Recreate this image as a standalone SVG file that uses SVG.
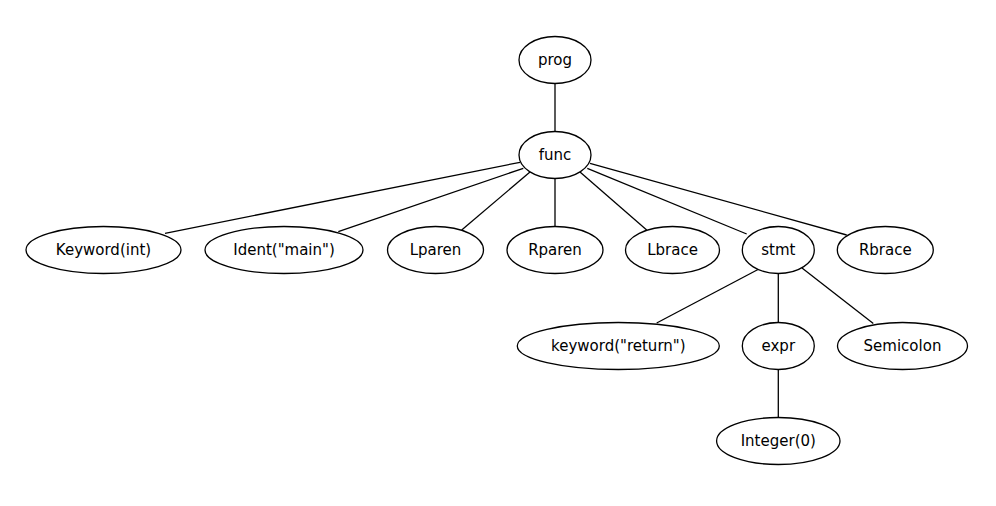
<svg xmlns="http://www.w3.org/2000/svg" width="996" height="506" viewBox="0 0 996 506">
<style>
.n ellipse{fill:#fff;stroke:#000;stroke-width:1.3}
.n text{font-family:"DejaVu Sans",sans-serif;font-size:15px;fill:#000;text-anchor:middle}
#edges line{stroke:#000;stroke-width:1.3}
</style>
<rect width="996" height="506" fill="#fff"/>
<g id="edges">
<line x1="555" y1="84" x2="555" y2="131"/>
<line x1="520" y1="162.3" x2="165" y2="233.3"/>
<line x1="523.3" y1="168.3" x2="338.3" y2="231.7"/>
<line x1="530" y1="172" x2="461.7" y2="230"/>
<line x1="555" y1="178" x2="555" y2="226.5"/>
<line x1="580" y1="172" x2="646.7" y2="230"/>
<line x1="587.3" y1="168.3" x2="746.7" y2="234"/>
<line x1="590" y1="163.3" x2="846.7" y2="235"/>
<line x1="758" y1="269.5" x2="656.7" y2="323"/>
<line x1="778.3" y1="273.5" x2="778.3" y2="322.5"/>
<line x1="802" y1="268" x2="873.3" y2="323.5"/>
<line x1="778.3" y1="369.5" x2="778.3" y2="417.5"/>
</g>
<g id="prog" class="n"><ellipse cx="555" cy="60" rx="36" ry="23.5"/><text x="555" y="65">prog</text></g>
<g id="func" class="n"><ellipse cx="555" cy="155" rx="36" ry="23.5"/><text x="555" y="160">func</text></g>
<g id="keyword_int" class="n"><ellipse cx="103.5" cy="250" rx="77.5" ry="23.5"/><text x="103.5" y="255">Keyword(int)</text></g>
<g id="ident_main" class="n"><ellipse cx="284" cy="250" rx="79" ry="23.5"/><text x="284" y="255">Ident("main")</text></g>
<g id="lparen" class="n"><ellipse cx="435.5" cy="250" rx="48" ry="23.5"/><text x="435.5" y="255">Lparen</text></g>
<g id="rparen" class="n"><ellipse cx="555" cy="250" rx="48" ry="23.5"/><text x="555" y="255">Rparen</text></g>
<g id="lbrace" class="n"><ellipse cx="672.5" cy="250" rx="47" ry="23.5"/><text x="672.5" y="255">Lbrace</text></g>
<g id="stmt" class="n"><ellipse cx="778.3" cy="250" rx="36" ry="23.5"/><text x="778.3" y="255">stmt</text></g>
<g id="rbrace" class="n"><ellipse cx="885.3" cy="250" rx="48" ry="23.5"/><text x="885.3" y="255">Rbrace</text></g>
<g id="keyword_return" class="n"><ellipse cx="618.3" cy="346" rx="101" ry="23.5"/><text x="618.3" y="351">keyword("return")</text></g>
<g id="expr" class="n"><ellipse cx="778.3" cy="346" rx="36" ry="23.5"/><text x="778.3" y="351">expr</text></g>
<g id="semicolon" class="n"><ellipse cx="902.5" cy="346" rx="65" ry="23.5"/><text x="902.5" y="351">Semicolon</text></g>
<g id="integer0" class="n"><ellipse cx="778.3" cy="441" rx="61.7" ry="23.5"/><text x="778.3" y="446">Integer(0)</text></g>
</svg>
